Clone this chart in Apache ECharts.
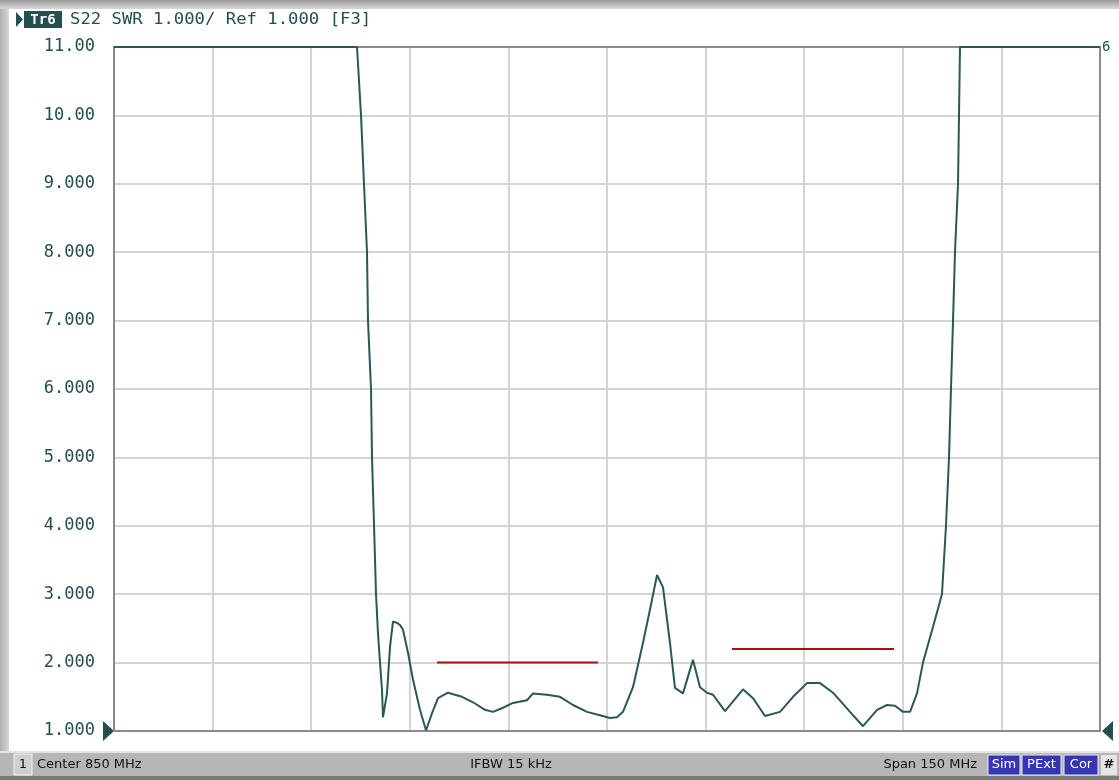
<!DOCTYPE html>
<html><head><meta charset="utf-8">
<script src="https://cdn.jsdelivr.net/npm/echarts@6/dist/echarts.min.js"></script>
<style>html,body{margin:0;padding:0;background:#fff}#c{width:1119px;height:780px}</style>
</head><body><div id="c"></div>
<script>
// Trace data: frequency (MHz) and SWR
const freqMHz = [775.00, 811.97, 812.58, 813.03, 813.49, 813.64, 814.10, 814.25, 814.56, 814.86, 815.16, 815.47, 815.77, 815.92,
  816.53, 816.99, 817.44, 818.05, 818.51, 818.97, 819.73, 820.49, 821.55, 822.46, 823.38, 824.29, 825.81, 827.94, 829.62,
  831.44, 832.66, 834.18, 835.70, 837.83, 838.74, 840.87, 842.85, 844.83, 846.96, 848.93, 850.45, 851.52, 852.43, 853.95,
  855.48, 856.85, 857.61, 858.52, 859.58, 860.34, 861.56, 863.08, 864.15, 865.21, 866.13, 867.95, 870.69, 872.21, 874.04,
  876.32, 878.30, 880.43, 882.40, 884.38, 886.97, 888.95, 891.08, 892.60, 893.81, 895.03, 896.10, 897.16, 898.07, 899.59,
  900.96, 901.57, 902.03, 902.33, 902.64, 902.94, 903.40, 903.55, 903.70, 925.00];
const swr = [11, 11, 10, 9, 8, 7, 6, 5, 4, 3, 2.43, 2.0, 1.6, 1.2,
  1.55, 2.23, 2.6, 2.58, 2.55, 2.48, 2.14, 1.75, 1.31, 1.01, 1.26, 1.48, 1.56, 1.5, 1.42,
  1.31, 1.28, 1.34, 1.41, 1.45, 1.55, 1.53, 1.5, 1.38, 1.28, 1.23, 1.19, 1.2, 1.28, 1.64,
  2.29, 2.92, 3.28, 3.1, 2.29, 1.63, 1.55, 2.04, 1.64, 1.56, 1.53, 1.29, 1.61, 1.48, 1.22,
  1.28, 1.5, 1.70, 1.70, 1.56, 1.28, 1.07, 1.31, 1.38, 1.37, 1.28, 1.28, 1.55, 2.0, 2.52,
  3.0, 4, 5, 6, 7, 8, 9, 10, 11, 11];
// Limit lines
const limit1Freq = [824.14, 848.63];
const limit1Val = [2.0, 2.0];
const limit2Freq = [869.02, 893.66];
const limit2Val = [2.2, 2.2];
// Axis settings
const xMin = 775, xMax = 925, xStep = 15;
const yMin = 1, yMax = 11, yStep = 1;
const headerText = 'S22 SWR 1.000/ Ref 1.000 [F3]';
const traceName = 'Tr6';
const statusLeft = 'Center 850 MHz';
const statusMid = 'IFBW 15 kHz';
const statusRight = 'Span 150 MHz';
const badges = ['Sim', 'PExt', 'Cor'];

const TEAL = '#244f4f';
const MONO = '"DejaVu Sans Mono", monospace';
const SANS = '"DejaVu Sans", sans-serif';

function fmt(v) {
  return v >= 10 ? v.toFixed(2) : v.toFixed(3);
}
const trace = freqMHz.map((f, i) => [f, swr[i]]);
const lim1 = limit1Freq.map((f, i) => [f, limit1Val[i]]);
const lim2 = limit2Freq.map((f, i) => [f, limit2Val[i]]);

const graphics = [
  // top bar
  {type: 'rect', shape: {x: 0, y: 0, width: 1119, height: 9}, silent: true,
   style: {fill: new echarts.graphic.LinearGradient(0, 0, 0, 1, [{offset: 0, color: '#9a9a9a'}, {offset: 1, color: '#d8d8d8'}])}},
  // left bar
  {type: 'rect', shape: {x: 0, y: 9, width: 9, height: 745}, silent: true,
   style: {fill: new echarts.graphic.LinearGradient(0, 0, 1, 0, [{offset: 0, color: '#b0b0b0'}, {offset: 1, color: '#d8d8d8'}])}},
  // status bar
  {type: 'rect', shape: {x: 0, y: 751, width: 1119, height: 29}, silent: true, style: {fill: '#b6b6b6'}},
  {type: 'rect', shape: {x: 0, y: 751, width: 1119, height: 2}, silent: true, style: {fill: '#e4e4e4'}},
  {type: 'rect', shape: {x: 0, y: 776, width: 1119, height: 4}, silent: true, style: {fill: '#7a7a7a'}},
  {type: 'rect', shape: {x: 14, y: 754, width: 18, height: 21}, silent: true, style: {fill: '#d0d0d0', stroke: '#f0f0f0', lineWidth: 1}},
  {type: 'text', x: 23, y: 765, silent: true, style: {text: '1', font: '13px ' + SANS, fill: '#111', align: 'center', verticalAlign: 'middle'}},
  {type: 'text', x: 37, y: 765, silent: true, style: {text: statusLeft, font: '13px ' + SANS, fill: '#111', align: 'left', verticalAlign: 'middle'}},
  {type: 'text', x: 511, y: 765, silent: true, style: {text: statusMid, font: '13px ' + SANS, fill: '#111', align: 'center', verticalAlign: 'middle'}},
  {type: 'text', x: 977, y: 765, silent: true, style: {text: statusRight, font: '13px ' + SANS, fill: '#111', align: 'right', verticalAlign: 'middle'}},
  // header
  {type: 'polygon', shape: {points: [[16, 12], [16, 27], [23, 19.5]]}, silent: true, style: {fill: TEAL}},
  {type: 'rect', shape: {x: 24, y: 11, width: 38, height: 17}, silent: true, style: {fill: TEAL}},
  {type: 'text', x: 43, y: 20, silent: true, style: {text: traceName, font: 'bold 14px ' + MONO, fill: '#fff', align: 'center', verticalAlign: 'middle'}},
  {type: 'text', x: 70, y: 20, scaleX: 1.15, silent: true, style: {text: headerText, font: '15px ' + MONO, fill: TEAL, align: 'left', verticalAlign: 'middle'}},
  // markers
  {type: 'polygon', shape: {points: [[103, 721], [103, 741], [114, 731]]}, silent: true, style: {fill: TEAL}},
  {type: 'polygon', shape: {points: [[1113, 721], [1113, 741], [1102, 731]]}, silent: true, style: {fill: TEAL}},
  {type: 'text', x: 1102, y: 47, silent: true, style: {text: '6', font: '14px ' + MONO, fill: TEAL, align: 'left', verticalAlign: 'middle'}}
];
// badges
const badgeX = [988, 1022, 1064];
const badgeW = [32, 39, 34];
badges.forEach((b, i) => {
  graphics.push({type: 'rect', shape: {x: badgeX[i], y: 755, width: badgeW[i], height: 20}, silent: true, style: {fill: '#3636b4', stroke: '#e8e8e8', lineWidth: 1}});
  graphics.push({type: 'text', x: badgeX[i] + badgeW[i] / 2, y: 765, silent: true, style: {text: b, font: '13px ' + SANS, fill: '#fff', align: 'center', verticalAlign: 'middle'}});
});
graphics.push({type: 'rect', shape: {x: 1101, y: 755, width: 16, height: 20}, silent: true, style: {fill: '#e6e6e6'}});
graphics.push({type: 'text', x: 1109, y: 765, silent: true, style: {text: '#', font: 'bold 13px ' + SANS, fill: '#111', align: 'center', verticalAlign: 'middle'}});

const chart = echarts.init(document.getElementById('c'), null, {renderer: 'canvas'});
chart.setOption({
  animation: false,
  backgroundColor: '#ffffff',
  grid: {left: 114, right: 19, top: 47, bottom: 49, containLabel: false},
  xAxis: {
    type: 'value', min: xMin, max: xMax, interval: xStep,
    axisLine: {show: false}, axisTick: {show: false}, axisLabel: {show: false},
    splitLine: {show: true, lineStyle: {color: '#d4d4d4', width: 2}}
  },
  yAxis: {
    type: 'value', min: yMin, max: yMax, interval: yStep,
    axisLine: {show: false}, axisTick: {show: false},
    axisLabel: {formatter: fmt, margin: 19, color: TEAL, fontFamily: MONO, fontSize: 17},
    splitLine: {show: true, lineStyle: {color: '#d4d4d4', width: 2}}
  },
  graphic: graphics.concat([
    {type: 'rect', shape: {x: 114, y: 47, width: 986, height: 684}, z: 1, silent: true,
     style: {fill: 'none', stroke: '#8a8a8a', lineWidth: 2}}
  ]),
  series: [
    {type: 'line', data: trace, showSymbol: false, lineStyle: {color: '#2a5757', width: 2}, z: 5},
    {type: 'line', data: lim1, showSymbol: false, lineStyle: {color: '#a81010', width: 2}, z: 4},
    {type: 'line', data: lim2, showSymbol: false, lineStyle: {color: '#a81010', width: 2}, z: 4}
  ]
});
</script></body></html>
